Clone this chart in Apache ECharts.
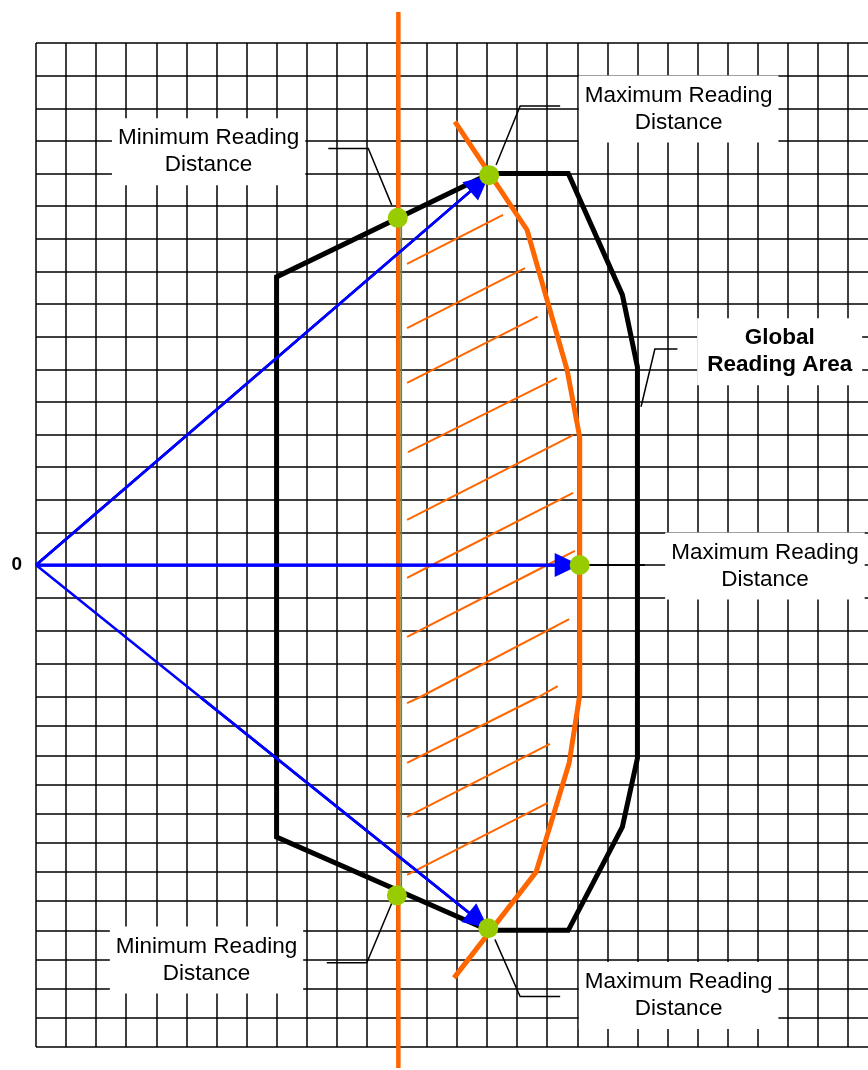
<!DOCTYPE html>
<html><head><meta charset="utf-8">
<script src="https://cdn.jsdelivr.net/npm/echarts@6/dist/echarts.min.js"></script>
<style>html,body{margin:0;padding:0;background:#fff}#c{width:868px;height:1070px}</style>
</head><body><div id="c"></div><script>
// ---------- data (grid units: u to the right, v upwards; reader at origin "0") ----------
const xRange = [0, 28];
const yBandRanges = [[0, 16], [-4, 0], [-16, -4]];
const originLabel = '0';

const globalReadingArea = [[8, 8.83], [15.1, 12], [17.7, 12], [19.5, 8.28], [20, 6.07], [20, -6.1], [19.5, -8.45], [17.7, -12], [15.05, -12], [8, -8.8]];
const maxReadingCurve = [[13.93, 13.59], [16.33, 10.27], [17.66, 5.98], [18.08, 3.92], [18.08, -3.94], [17.73, -6.26], [16.63, -10.0], [13.9, -13.63]];
const minReadingLine = [[12.05, 16.95], [12.05, -16.72]];
const minReadingEdge = [[12.15, 10.64], [12.15, -10.8]];
const hatchLines = [
  [[12.34, 9.23], [15.53, 10.73]],
  [[12.34, 7.26], [16.26, 9.10]],
  [[12.34, 5.58], [16.68, 7.61]],
  [[12.37, 3.46], [17.32, 5.73]],
  [[12.34, 1.38], [17.86, 3.98]],
  [[12.34, -0.39], [17.86, 2.21]],
  [[12.34, -2.18], [17.92, 0.43]],
  [[12.34, -4.21], [17.73, -1.64]],
  [[12.34, -6.26], [17.35, -3.67]],
  [[12.34, -8.11], [17.09, -5.61]],
  [[12.34, -10.10], [17.02, -7.63]]
];
const readingArrows = [
  [[0, 0], [15.07, 11.95]],
  [[0, 0], [18.08, 0]],
  [[0, 0], [5.46, -4], [15.04, -11.93]]
];
const readingPoints = [[12.03, 10.64], [15.07, 11.95], [18.08, 0], [12.0, -10.8], [15.04, -11.93]];
const calloutLeaders = [
  [[11.83, 11.03], [11.05, 12.77], [9.72, 12.77]],
  [[15.30, 12.26], [16.10, 14.07], [17.43, 14.07]],
  [[20.12, 4.85], [20.58, 6.62], [21.33, 6.62]],
  [[18.26, 0], [20.25, 0]],
  [[11.83, -11.07], [11.0, -13.11], [9.67, -13.11]],
  [[15.26, -12.31], [16.10, -14.27], [17.43, -14.27]]
];
const calloutTexts = ['Minimum Reading\nDistance', 'Maximum Reading\nDistance', 'Global\nReading Area', 'Maximum Reading\nDistance', 'Minimum Reading\nDistance', 'Maximum Reading\nDistance'];
const calloutAnchors = [[5.74, 12.67], [21.37, 13.98], [24.73, 6.54], [24.24, -0.03], [5.67, -13.02], [21.37, -14.23]];

// ---------- layout ----------
const FONT = "'Liberation Sans', Arial, sans-serif";
const bandLayout = [{ top: 43, height: 522 }, { top: 565, height: 132 }, { top: 697, height: 350 }];
const bands = yBandRanges.map((r, i) => ({
  lo: i === yBandRanges.length - 1 ? -Infinity : r[0],
  hi: i === 0 ? Infinity : r[1]
}));
function bandOf(p) {
  for (let i = 0; i < bands.length; i++) if (p[1] >= bands[i].lo && p[1] <= bands[i].hi) return i;
  return 0;
}
function lerp(a, b, t) { return [a[0] + (b[0] - a[0]) * t, a[1] + (b[1] - a[1]) * t]; }
function clipPolyline(pts, lo, hi) {
  const pieces = []; let cur = null;
  for (let i = 0; i < pts.length - 1; i++) {
    const a = pts[i], b = pts[i + 1];
    const dy = b[1] - a[1];
    let t0 = 0, t1 = 1;
    if (dy === 0) {
      if (a[1] < lo || a[1] > hi) { cur = null; continue; }
    } else {
      const ta = (lo - a[1]) / dy, tb = (hi - a[1]) / dy;
      t0 = Math.max(0, Math.min(ta, tb)); t1 = Math.min(1, Math.max(ta, tb));
      if (!(t1 > t0)) { cur = null; continue; }
    }
    const p0 = lerp(a, b, t0), p1 = lerp(a, b, t1);
    if (cur && t0 === 0) cur.push(p1); else { cur = [p0, p1]; pieces.push(cur); }
    if (t1 < 1) cur = null;
  }
  return pieces;
}
const series = [];
function addPolyline(pts, style, z, closed) {
  const path = closed ? pts.concat([pts[0]]) : pts;
  bands.forEach((b, bi) => {
    let pieces = clipPolyline(path, b.lo, b.hi);
    if (closed && pieces.length > 1) {
      const first = pieces[0], last = pieces[pieces.length - 1];
      const s = first[0], e = last[last.length - 1];
      if (Math.abs(s[0] - e[0]) < 1e-9 && Math.abs(s[1] - e[1]) < 1e-9) {
        pieces = [last.concat(first.slice(1))].concat(pieces.slice(1, pieces.length - 1));
      }
    }
    pieces.forEach(piece => series.push({
      type: 'line', xAxisIndex: bi, yAxisIndex: bi, data: piece, showSymbol: false, symbol: 'none',
      clip: false, silent: true, animation: false, z: z,
      lineStyle: Object.assign({ join: 'miter', cap: 'butt', opacity: 1 }, style)
    }));
  });
}

const BLACK = '#000000', ORANGE = '#ff6600', BLUE = '#0000ff', DOT = '#99cc00', EDGE = '#339966';

addPolyline(globalReadingArea, { color: BLACK, width: 5 }, 3, true);
hatchLines.forEach(h => addPolyline(h, { color: ORANGE, width: 2 }, 3));
addPolyline(minReadingLine, { color: ORANGE, width: 4.5 }, 4);
addPolyline(minReadingEdge, { color: EDGE, width: 1.5 }, 4);
addPolyline(maxReadingCurve, { color: ORANGE, width: 5 }, 4);
calloutLeaders.forEach(l => addPolyline(l, { color: BLACK, width: 1.5 }, 4));
readingArrows.forEach(arr => {
  addPolyline(arr, { color: BLUE, width: 2.5 }, 5);
  const a = arr[arr.length - 2], b = arr[arr.length - 1];
  const bi = bandOf(b);
  series.push({
    type: 'line', xAxisIndex: bi, yAxisIndex: bi, data: [a, b], showSymbol: false, symbol: 'none',
    clip: false, silent: true, animation: false, z: 5,
    lineStyle: { color: BLUE, width: 2.5 },
    markLine: {
      silent: true, animation: false, symbol: ['none', 'none'],
      label: { show: false }, emphasis: { disabled: true },
      lineStyle: { color: BLUE, width: 2.5, type: 'solid', opacity: 1 },
      data: [[{ coord: a, symbol: 'none' }, { coord: b, symbol: 'triangle', symbolSize: [24, 25], symbolOffset: [0, 12.5] }]]
    }
  });
});
bands.forEach((b, bi) => {
  const pts = readingPoints.filter(p => bandOf(p) === bi);
  if (pts.length) series.push({
    type: 'scatter', xAxisIndex: bi, yAxisIndex: bi, data: pts, symbol: 'circle', symbolSize: 20,
    clip: false, silent: true, animation: false, z: 7, itemStyle: { color: DOT, opacity: 1 }
  });
  const labels = calloutAnchors.map((p, i) => ({ p, i })).filter(o => bandOf(o.p) === bi);
  if (labels.length) series.push({
    type: 'scatter', xAxisIndex: bi, yAxisIndex: bi, symbolSize: 0, clip: false, silent: true, animation: false, z: 8,
    itemStyle: { color: '#ffffff', opacity: 1 },
    label: {
      show: true, position: 'inside', formatter: '{b}', color: '#000', fontFamily: FONT, fontSize: 22.5,
      lineHeight: 27, align: 'center', backgroundColor: '#ffffff', padding: [4, 6, 9, 6],
      textBorderWidth: 0, opacity: 1
    },
    data: labels.map(o => {
      const item = { value: o.p, name: calloutTexts[o.i] };
      if (calloutTexts[o.i].indexOf('Global') === 0) item.label = { fontWeight: 'bold', padding: [4, 10, 9, 10] };
      return item;
    })
  });
});

const option = {
  animation: false,
  backgroundColor: '#ffffff',
  grid: bandLayout.map(l => ({ left: 36, right: -10, top: l.top, height: l.height, outerBoundsMode: 'none', containLabel: false })),
  xAxis: bands.map((b, i) => ({
    type: 'value', gridIndex: i, min: xRange[0], max: xRange[1], interval: 1,
    axisLine: { show: false }, axisTick: { show: false }, axisLabel: { show: false },
    splitLine: { show: true, lineStyle: { color: '#000', width: 1.5 } }
  })),
  yAxis: yBandRanges.map((r, i) => ({
    type: 'value', gridIndex: i, min: r[0], max: r[1], interval: 1,
    axisLine: { show: false }, axisTick: { show: false },
    axisLabel: {
      show: i === 1, showMaxLabel: true, margin: 14, color: '#000', fontFamily: FONT, fontWeight: 'bold', fontSize: 19,
      formatter: v => (v === 0 ? originLabel : '')
    },
    splitLine: { show: true, showMaxLine: i === 0, lineStyle: { color: '#000', width: 1.5 } }
  })),
  series: series
};
const chart = echarts.init(document.getElementById('c'), null, { renderer: 'canvas' });
chart.setOption(option);
</script></body></html>
